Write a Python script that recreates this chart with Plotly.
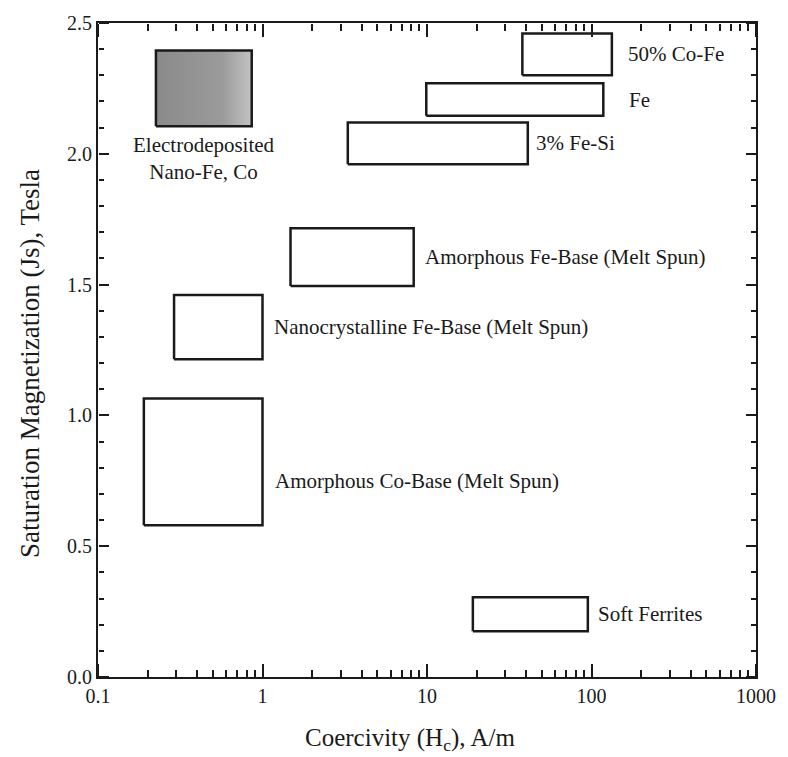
import numpy as np
import plotly.graph_objects as go

# Soft magnetic materials: coercivity range (A/m) vs saturation magnetization range (T)
materials = [
    "50% Co-Fe",
    "Fe",
    "3% Fe-Si",
    "Amorphous Fe-Base (Melt Spun)",
    "Nanocrystalline Fe-Base (Melt Spun)",
    "Amorphous Co-Base (Melt Spun)",
    "Soft Ferrites",
    "Electrodeposited<br>Nano-Fe, Co",
]
hc_min = [38.0, 9.9, 3.3, 1.48, 0.29, 0.19, 19.0, 0.225]
hc_max = [133.0, 118.0, 41.0, 8.3, 1.0, 1.0, 95.0, 0.86]
js_min = [2.30, 2.145, 1.96, 1.495, 1.215, 0.58, 0.175, 2.105]
js_max = [2.46, 2.27, 2.12, 1.715, 1.46, 1.065, 0.305, 2.395]

x_tick_vals = [0.1, 1, 10, 100, 1000]
x_tick_text = ["0.1", "1", "10", "100", "1000"]
y_tick_vals = [0.0, 0.5, 1.0, 1.5, 2.0, 2.5]
y_tick_text = ["0.0", "0.5", "1.0", "1.5", "2.0", "2.5"]

FONT = "Liberation Serif, Times New Roman, serif"
INK = "#1a1a1a"

# label placement relative to each box's right edge (pixels)
label_dx = [14, 24, 6, 9, 9, 10, 8]
label_dy = [0, 0, 0, 0, 0, -19, 0]

fig = go.Figure()

for i, name in enumerate(materials):
    x0, x1, y0, y1 = hc_min[i], hc_max[i], js_min[i], js_max[i]
    shaded = i == len(materials) - 1
    trace = dict(
        x=[x0, x1, x1, x0, x0],
        y=[y0, y0, y1, y1, y0],
        mode="lines",
        line=dict(color=INK, width=2.5),
        fill="toself",
        fillcolor="white",
        hoverinfo="skip",
        showlegend=False,
    )
    if shaded:
        trace["fillgradient"] = dict(
            type="horizontal",
            colorscale=[[0, "rgb(138,138,138)"], [0.7, "rgb(155,155,155)"], [1, "rgb(195,195,195)"]],
        )
    fig.add_trace(go.Scatter(**trace))

# invisible anchors so the tick-only overlay axes get drawn
for xa, ya in [("x2", "y"), ("x3", "y"), ("x4", "y"), ("x5", "y"),
               ("x", "y2"), ("x", "y3"), ("x", "y4"), ("x", "y5")]:
    fig.add_trace(go.Scatter(
        x=[hc_min[0]], y=[js_min[0]], xaxis=xa, yaxis=ya,
        mode="markers", marker=dict(opacity=0, size=1),
        hoverinfo="skip", showlegend=False,
    ))

annotations = []
for i in range(len(materials) - 1):
    annotations.append(dict(
        x=np.log10(hc_max[i]), y=(js_min[i] + js_max[i]) / 2,
        xref="x", yref="y", text=materials[i], showarrow=False,
        xanchor="left", yanchor="middle",
        xshift=label_dx[i], yshift=label_dy[i],
        font=dict(family=FONT, size=21, color=INK),
    ))

# caption under the shaded electrodeposited box
k = len(materials) - 1
annotations.append(dict(
    x=np.log10(np.sqrt(hc_min[k] * hc_max[k])), y=js_min[k],
    xref="x", yref="y", text=materials[k], showarrow=False,
    xanchor="center", yanchor="top", yshift=-5, align="center",
    font=dict(family=FONT, size=21, color=INK),
))

# axis titles
annotations.append(dict(
    x=0.5, y=0, xref="paper", yref="paper", yanchor="middle", xanchor="center",
    text="Coercivity (H<sub>c</sub>), A/m", showarrow=False, xshift=-17, yshift=-62,
    font=dict(family=FONT, size=25, color=INK),
))
annotations.append(dict(
    x=0, y=0.5, xref="paper", yref="paper", xanchor="center", yanchor="middle",
    text="Saturation Magnetization (Js), Tesla", showarrow=False,
    textangle=-90, xshift=-68, yshift=-14,
    font=dict(family=FONT, size=27, color=INK),
))

X_RANGE = [-1, 3]
Y_RANGE = [0, 2.5]
minor_x = [m * 10.0 ** d for d in range(-1, 3) for m in range(2, 10)]
minor_y = [round(0.1 * i, 1) for i in range(26) if i % 5]


def tick_axis(kind, vals, length, side, pos):
    """Tick-only overlay axis placed on a frame edge so its ticks point into the plot."""
    ax = dict(
        overlaying=kind, anchor="free", position=pos, side=side,
        range=X_RANGE if kind == "x" else Y_RANGE, autorange=False,
        tickmode="array", tickvals=vals, showticklabels=False,
        ticks="outside", ticklen=length, tickwidth=1.8, tickcolor=INK,
        showline=False, showgrid=False, zeroline=False, fixedrange=True,
    )
    if kind == "x":
        ax["type"] = "log"
    return ax


fig.update_layout(
    width=788, height=757,
    margin=dict(l=98, r=31, t=16, b=80),
    paper_bgcolor="white", plot_bgcolor="white",
    font=dict(family=FONT, size=20, color=INK),
    annotations=annotations,
    xaxis=dict(
        type="log", range=X_RANGE,
        tickvals=x_tick_vals, ticktext=x_tick_text, ticks="",
        showline=True, linecolor=INK, linewidth=2.2, mirror=True,
        showgrid=False, zeroline=False,
        tickfont=dict(family=FONT, size=20, color=INK),
    ),
    yaxis=dict(
        range=Y_RANGE,
        tickvals=y_tick_vals, ticktext=y_tick_text, ticks="",
        showline=True, linecolor=INK, linewidth=2.2, mirror=True,
        showgrid=False, zeroline=False,
        tickfont=dict(family=FONT, size=20, color=INK),
    ),
    # inward ticks on all four edges
    xaxis2=tick_axis("x", x_tick_vals, 13, "top", 0),
    xaxis3=tick_axis("x", minor_x, 7, "top", 0),
    xaxis4=tick_axis("x", x_tick_vals, 13, "bottom", 1),
    xaxis5=tick_axis("x", minor_x, 7, "bottom", 1),
    yaxis2=tick_axis("y", y_tick_vals, 10, "right", 0),
    yaxis3=tick_axis("y", minor_y, 5, "right", 0),
    yaxis4=tick_axis("y", y_tick_vals, 10, "left", 1),
    yaxis5=tick_axis("y", minor_y, 5, "left", 1),
)

fig.write_html("out.html")
